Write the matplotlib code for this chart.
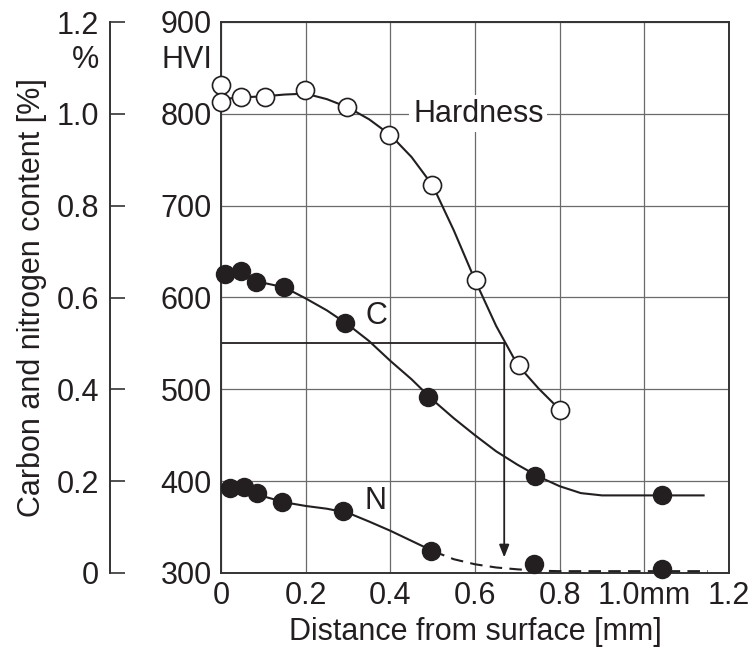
import matplotlib
matplotlib.use("Agg")
import matplotlib.pyplot as plt

plt.rcParams['font.family'] = ['Liberation Sans', 'DejaVu Sans']
ink = '#231f20'
fs = 22

# measured hardness (HV) and carbon / nitrogen content (%) vs depth (mm)
hv_depth = [0, 0, 0.048, 0.103, 0.198, 0.297, 0.398, 0.498, 0.602, 0.705, 0.8]
hv_value = [831, 813, 818, 818, 826, 807, 777, 722, 619, 527, 478]
c_depth = [0.009, 0.047, 0.083, 0.148, 0.292, 0.49, 0.742, 1.042]
c_value = [0.651, 0.658, 0.634, 0.622, 0.545, 0.383, 0.211, 0.169]
n_depth = [0.021, 0.054, 0.086, 0.145, 0.289, 0.496, 0.74, 1.042]
n_value = [0.185, 0.188, 0.174, 0.154, 0.134, 0.049, 0.020, 0.009]

# faired curves through the measurements
hv_curve_d = [0, 0.05, 0.1, 0.15, 0.2, 0.25, 0.3, 0.35, 0.4, 0.45, 0.5, 0.55,
              0.6, 0.65, 0.7, 0.75, 0.8]
hv_curve_v = [816, 818, 819, 821, 822, 816, 807, 794, 777, 753, 722, 673,
              619, 569, 527, 501, 478]
c_curve_d = [0, 0.05, 0.1, 0.15, 0.2, 0.25, 0.3, 0.35, 0.4, 0.45, 0.5, 0.55,
             0.6, 0.65, 0.7, 0.75, 0.8, 0.85, 0.9, 1.0, 1.14]
c_curve_v = [0.652, 0.645, 0.632, 0.622, 0.598, 0.572, 0.541, 0.505, 0.462,
             0.422, 0.377, 0.337, 0.300, 0.265, 0.236, 0.210, 0.189, 0.174,
             0.169, 0.169, 0.169]
n_curve_d = [0, 0.05, 0.1, 0.15, 0.2, 0.25, 0.3, 0.35, 0.4, 0.45, 0.5]
n_curve_v = [0.19, 0.184, 0.167, 0.154, 0.146, 0.140, 0.131, 0.112, 0.092,
             0.070, 0.048]
n_tail_d = [0.5, 0.55, 0.6, 0.65, 0.7, 0.75, 0.8, 1.15]
n_tail_v = [0.048, 0.030, 0.019, 0.012, 0.008, 0.005, 0.004, 0.004]

# effective case depth at 550 HV
eff_hv = 550
eff_depth = 0.669
arrow_end_hv = 317

x_ticks = [0, 0.2, 0.4, 0.6, 0.8, 1.0, 1.2]
x_labels = ['0', '0.2', '0.4', '0.6', '0.8', '1.0mm', '1.2']
hv_ticks = [300, 400, 500, 600, 700, 800, 900]
pct_ticks = [0, 0.2, 0.4, 0.6, 0.8, 1.0, 1.2]
pct_labels = ['0', '0.2', '0.4', '0.6', '0.8', '1.0', '1.2']

W, H = 753, 655
fig = plt.figure(figsize=(W / 100, H / 100), dpi=100)
ax = fig.add_axes([221 / W, 1 - 573 / H, 508 / W, 551 / H])

ax.set_xlim(0, 1.2)
ax.set_ylim(300, 900)
ax.set_xticks(x_ticks)
ax.set_xticklabels(x_labels)
ax.set_yticks(hv_ticks)
ax.tick_params(length=0, labelsize=fs, labelcolor=ink)
ax.tick_params(axis='y', pad=6.5)
ax.tick_params(axis='x', pad=6)
ax.grid(True, color='#6a6a6a', lw=0.9)
ax.set_axisbelow(True)
for s in ax.spines.values():
    s.set_color('#333333')
    s.set_linewidth(1.4)
ax.set_xlabel('Distance from surface [mm]', fontsize=fs, color=ink, labelpad=4)

# hardness
ax.plot(hv_curve_d, hv_curve_v, color=ink, lw=1.5, zorder=3)
ax.plot(hv_depth, hv_value, 'o', ms=13, mfc='white', mec=ink, mew=1.2,
        zorder=4, clip_on=False)
ax.text(0.608, 800, 'Hardness', fontsize=fs, color=ink, ha='center',
        va='center', zorder=2,
        bbox=dict(boxstyle='square,pad=0.12', fc='white', ec='none'))

# effective depth construction
ax.plot([0, eff_depth], [eff_hv, eff_hv], color=ink, lw=1.3, zorder=2)
ax.annotate('', xy=(eff_depth, arrow_end_hv), xytext=(eff_depth, eff_hv),
            arrowprops=dict(arrowstyle='-|>,head_length=0.75,head_width=0.3',
                            color=ink, lw=1.3, shrinkA=0, shrinkB=0),
            zorder=2)

# carbon / nitrogen on the % scale
ax2 = ax.twinx()
ax2.set_ylim(0, 1.2)
for k in ('top', 'bottom', 'right'):
    ax2.spines[k].set_visible(False)
ax2.spines['left'].set_visible(True)
ax2.spines['left'].set_position(('axes', -111 / 508))
ax2.spines['left'].set_color('#333333')
ax2.spines['left'].set_linewidth(1.4)
ax2.yaxis.set_ticks_position('left')
ax2.yaxis.set_label_position('left')
ax2.set_yticks(pct_ticks)
ax2.set_yticklabels(pct_labels)
ax2.tick_params(axis='y', direction='in', length=11, width=1.2, color='#333333',
                labelsize=fs, labelcolor=ink, pad=8)
ax2.set_ylabel('Carbon and nitrogen content [%]', fontsize=fs, color=ink,
               labelpad=7)

ax2.plot(c_curve_d, c_curve_v, color=ink, lw=1.5, zorder=3)
ax2.plot(c_depth, c_value, 'o', ms=13, color=ink, zorder=4, clip_on=False)
ax2.plot(n_curve_d, n_curve_v, color=ink, lw=1.5, zorder=3)
ax2.plot(n_tail_d, n_tail_v, color=ink, lw=1.5, ls=(0, (6, 3.5)), zorder=3)
ax2.plot(n_depth, n_value, 'o', ms=13, color=ink, zorder=4, clip_on=False)
ax2.text(0.366, 0.56, 'C', fontsize=fs, color=ink, ha='center', va='center')
ax2.text(0.365, 0.156, 'N', fontsize=fs, color=ink, ha='center', va='center')

# unit captions under the top tick labels
fig.text(212 / W, 1 - 60 / H, 'HVI', fontsize=fs, color=ink, ha='right',
         va='center')
fig.text(99 / W, 1 - 60 / H, '%', fontsize=fs, color=ink, ha='right',
         va='center')

fig.savefig('out.png', dpi=100)
